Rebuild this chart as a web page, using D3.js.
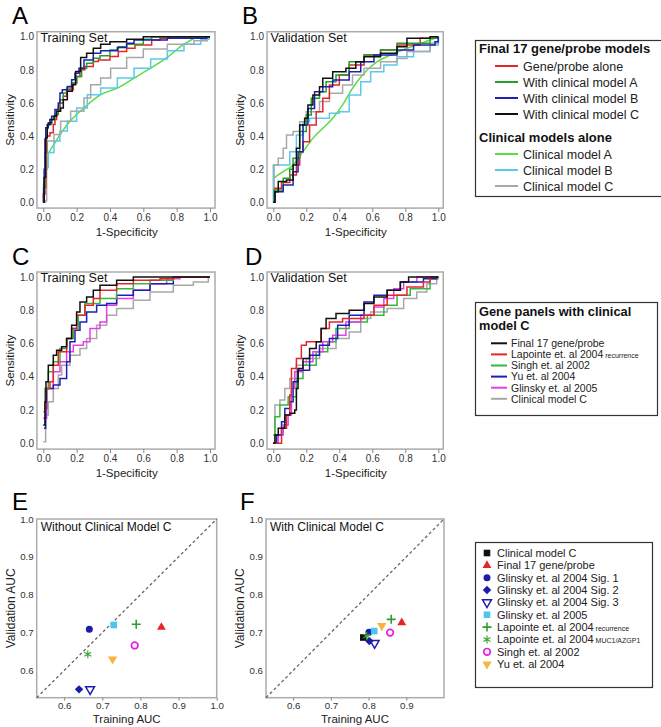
<!DOCTYPE html>
<html><head><meta charset="utf-8">
<script src="https://cdn.jsdelivr.net/npm/d3@7"></script>
<style>body{margin:0;background:#fff} svg text{font-family:"Liberation Sans",Arial,Helvetica,sans-serif}</style>
</head><body><svg id="c" width="661" height="727"></svg>
<script>
// ---------- Panel A: training set, ROC (x = 1-specificity, y = sensitivity)
const trainGeneAlone = [[0,0],[0,0.05],[0.01,0.09],[0.015,0.3],[0.02,0.4],[0.04,0.42],[0.06,0.47],[0.07,0.5],[0.08,0.55],[0.1,0.6],[0.12,0.64],[0.14,0.68],[0.18,0.72],[0.2,0.76],[0.22,0.8],[0.25,0.82],[0.3,0.85],[0.33,0.86],[0.4,0.88],[0.45,0.91],[0.5,0.93],[0.55,0.95],[0.65,0.98],[0.7,0.99],[0.75,1],[1,1]];
const trainWithA = [[0,0],[0.005,0.1],[0.01,0.3],[0.015,0.45],[0.03,0.47],[0.05,0.5],[0.07,0.53],[0.09,0.58],[0.1,0.62],[0.12,0.66],[0.14,0.69],[0.17,0.72],[0.2,0.76],[0.23,0.81],[0.26,0.84],[0.3,0.87],[0.34,0.885],[0.4,0.92],[0.45,0.94],[0.5,0.955],[0.6,0.985],[0.65,1],[1,1]];
const trainWithB = [[0,0],[0.005,0.2],[0.01,0.38],[0.015,0.45],[0.03,0.48],[0.05,0.52],[0.07,0.56],[0.09,0.6],[0.1,0.66],[0.114,0.68],[0.144,0.7],[0.17,0.74],[0.19,0.78],[0.214,0.81],[0.244,0.86],[0.3,0.9],[0.344,0.915],[0.444,0.935],[0.5,0.96],[0.544,0.98],[0.744,0.99],[0.98,1],[1,1]];
const trainWithC = [[0,0],[0.005,0.15],[0.014,0.39],[0.024,0.47],[0.04,0.5],[0.064,0.52],[0.08,0.55],[0.104,0.57],[0.12,0.62],[0.144,0.67],[0.174,0.71],[0.194,0.79],[0.224,0.875],[0.26,0.9],[0.3,0.93],[0.344,0.955],[0.4,0.97],[0.5,0.985],[0.6,1],[1,1]];
const trainClinA = [[0,0.1],[0.006,0.13],[0.024,0.27],[0.064,0.35],[0.144,0.47],[0.244,0.57],[0.344,0.65],[0.444,0.69],[0.544,0.75],[0.644,0.81],[0.744,0.875],[0.844,0.955],[0.944,1],[1,1]];
const trainClinB = [[0,0],[0,0.09],[0.014,0.21],[0.03,0.3],[0.064,0.37],[0.1,0.43],[0.144,0.49],[0.2,0.57],[0.264,0.65],[0.344,0.69],[0.444,0.75],[0.544,0.81],[0.644,0.865],[0.744,0.915],[0.844,0.955],[0.944,0.985],[0.994,1],[1,1]];
const trainClinC = [[0,0],[0.014,0.01],[0.02,0.2],[0.024,0.37],[0.064,0.41],[0.104,0.49],[0.164,0.55],[0.244,0.63],[0.284,0.71],[0.344,0.75],[0.404,0.81],[0.5,0.875],[0.6,0.925],[0.744,0.955],[0.904,0.975],[0.984,1],[1,1]];

// ---------- Panel B: validation set
const validGeneAlone = [[0,0],[0.01,0.085],[0.05,0.12],[0.1,0.165],[0.14,0.225],[0.16,0.306],[0.18,0.366],[0.22,0.467],[0.26,0.547],[0.3,0.628],[0.34,0.708],[0.4,0.769],[0.46,0.829],[0.55,0.889],[0.65,0.92],[0.75,0.95],[0.89,0.99],[0.99,1],[1,1]];
const validWithA = [[0,0],[0.005,0.075],[0.06,0.145],[0.1,0.2],[0.12,0.266],[0.16,0.427],[0.2,0.527],[0.23,0.628],[0.28,0.668],[0.32,0.728],[0.38,0.769],[0.46,0.849],[0.55,0.889],[0.65,0.92],[0.75,0.96],[0.95,0.99],[1,1]];
const validWithB = [[0,0],[0.01,0.064],[0.06,0.105],[0.12,0.185],[0.15,0.306],[0.18,0.467],[0.21,0.567],[0.25,0.668],[0.3,0.698],[0.36,0.738],[0.46,0.789],[0.53,0.849],[0.61,0.889],[0.75,0.92],[0.85,0.95],[0.98,0.97],[1,1]];
const validWithC = [[0,0],[0.01,0.064],[0.03,0.125],[0.08,0.135],[0.12,0.225],[0.14,0.326],[0.16,0.467],[0.19,0.507],[0.21,0.588],[0.24,0.648],[0.28,0.698],[0.3,0.749],[0.36,0.789],[0.44,0.809],[0.5,0.849],[0.55,0.879],[0.65,0.9],[0.75,0.94],[0.81,0.99],[0.95,1],[1,1]];
const validClinA = [[0,0.145],[0.06,0.185],[0.12,0.225],[0.18,0.306],[0.24,0.386],[0.3,0.447],[0.36,0.507],[0.42,0.588],[0.48,0.688],[0.55,0.779],[0.63,0.849],[0.71,0.889],[0.81,0.93],[0.95,0.98],[1,1]];
const validClinB = [[0,0],[0,0.225],[0.06,0.225],[0.1,0.306],[0.14,0.406],[0.18,0.487],[0.22,0.507],[0.3,0.507],[0.34,0.537],[0.4,0.547],[0.46,0.648],[0.53,0.728],[0.59,0.789],[0.67,0.829],[0.75,0.879],[0.85,0.91],[0.95,0.95],[1,1]];
const validClinC = [[0,0],[0.005,0.225],[0.03,0.266],[0.06,0.326],[0.08,0.406],[0.12,0.427],[0.16,0.487],[0.2,0.547],[0.28,0.608],[0.34,0.658],[0.42,0.708],[0.48,0.769],[0.55,0.809],[0.65,0.849],[0.75,0.869],[0.81,0.91],[0.95,0.96],[1,1]];

// ---------- Panel C: training set, gene panels with clinical model C
const panTrainFinal = [[0,0.11],[0.01,0.25],[0.016,0.37],[0.03,0.47],[0.06,0.53],[0.08,0.56],[0.11,0.58],[0.14,0.63],[0.17,0.71],[0.2,0.79],[0.22,0.85],[0.26,0.88],[0.3,0.92],[0.34,0.95],[0.44,0.98],[0.54,1],[1,1]];
const panTrainLapointe = [[0.006,0.21],[0.016,0.33],[0.04,0.37],[0.06,0.47],[0.09,0.55],[0.14,0.63],[0.17,0.69],[0.2,0.77],[0.25,0.83],[0.3,0.87],[0.34,0.92],[0.44,0.96],[0.54,0.98],[0.7,0.99],[0.78,1],[1,1]];
const panTrainSingh = [[0,0.19],[0.01,0.33],[0.03,0.43],[0.06,0.49],[0.1,0.57],[0.14,0.63],[0.18,0.69],[0.21,0.77],[0.25,0.84],[0.34,0.87],[0.44,0.93],[0.54,0.96],[0.64,0.98],[0.78,1],[1,1]];
const panTrainYu = [[0.004,0.09],[0.014,0.21],[0.02,0.33],[0.06,0.35],[0.1,0.39],[0.14,0.49],[0.16,0.61],[0.19,0.68],[0.22,0.73],[0.26,0.79],[0.32,0.83],[0.38,0.84],[0.44,0.89],[0.54,0.92],[0.64,0.96],[0.78,1],[1,1]];
const panTrainGlinsky = [[0,0.15],[0.02,0.33],[0.06,0.43],[0.1,0.49],[0.14,0.55],[0.18,0.59],[0.24,0.61],[0.28,0.69],[0.34,0.73],[0.38,0.83],[0.44,0.87],[0.54,0.92],[0.64,0.96],[0.74,0.99],[0.82,1],[1,1]];
const panTrainClinC = [[0,0.01],[0.014,0.17],[0.03,0.25],[0.06,0.33],[0.09,0.41],[0.11,0.47],[0.16,0.53],[0.22,0.57],[0.26,0.63],[0.32,0.71],[0.38,0.77],[0.44,0.81],[0.54,0.86],[0.64,0.91],[0.78,0.95],[0.9,0.97],[0.99,1],[1,1]];

// ---------- Panel D: validation set, gene panels with clinical model C
const panValidFinal = [[0,0],[0.01,0.05],[0.03,0.09],[0.07,0.17],[0.1,0.18],[0.13,0.2],[0.14,0.33],[0.15,0.45],[0.18,0.51],[0.22,0.57],[0.26,0.61],[0.29,0.69],[0.32,0.75],[0.38,0.78],[0.46,0.8],[0.55,0.84],[0.61,0.88],[0.69,0.92],[0.77,0.97],[0.82,1],[1,1]];
const panValidLapointe = [[0,0],[0.05,0.09],[0.08,0.17],[0.1,0.29],[0.11,0.45],[0.14,0.51],[0.17,0.59],[0.2,0.61],[0.26,0.61],[0.29,0.69],[0.34,0.73],[0.42,0.75],[0.55,0.77],[0.61,0.83],[0.69,0.89],[0.81,0.94],[0.91,0.97],[0.95,1],[1,1]];
const panValidSingh = [[0,0.05],[0.01,0.16],[0.04,0.23],[0.09,0.28],[0.14,0.39],[0.18,0.47],[0.26,0.55],[0.33,0.61],[0.38,0.69],[0.46,0.73],[0.57,0.77],[0.67,0.83],[0.75,0.89],[0.83,0.93],[0.95,0.99],[0.99,1],[1,1]];
const panValidYu = [[0,0],[0.02,0.05],[0.05,0.13],[0.07,0.21],[0.1,0.25],[0.12,0.37],[0.15,0.44],[0.22,0.53],[0.28,0.59],[0.34,0.63],[0.39,0.71],[0.46,0.77],[0.55,0.85],[0.61,0.89],[0.69,0.92],[0.77,0.97],[0.91,0.99],[0.99,1],[1,1]];
const panValidGlinsky = [[0,0],[0.03,0.05],[0.06,0.11],[0.09,0.17],[0.11,0.33],[0.13,0.43],[0.18,0.49],[0.24,0.55],[0.3,0.61],[0.36,0.65],[0.44,0.73],[0.53,0.77],[0.61,0.82],[0.67,0.87],[0.73,0.93],[0.79,0.97],[0.87,1],[1,1]];
const panValidClinC = [[0,0],[0.01,0.23],[0.04,0.26],[0.07,0.33],[0.1,0.39],[0.14,0.47],[0.2,0.51],[0.28,0.57],[0.38,0.63],[0.46,0.67],[0.53,0.75],[0.59,0.79],[0.69,0.81],[0.79,0.87],[0.87,0.91],[0.93,0.96],[0.99,0.99],[1,1]];

// ---------- Panels E/F: AUC scatter
const aucNames = ["Clinical model C","Final 17 gene/probe","Glinsky et. al 2004 Sig. 1","Glinsky et. al 2004 Sig. 2","Glinsky et. al 2004 Sig. 3","Glinsky et. al 2005","Lapointe et. al 2004","Lapointe et. al 2004","Singh et. al 2002","Yu et. al 2004"];
const aucNameSmall = ["","","","","","","recurrence","MUC1/AZGP1","",""];
const trainAucWithout = [null,0.855,0.666,0.639,0.668,0.730,0.789,0.662,0.785,0.727];
const validAucWithout = [null,0.714,0.709,0.550,0.550,0.720,0.722,0.643,0.666,0.630];
const trainAucWith = [0.786,0.888,0.801,0.802,0.816,0.815,0.860,0.795,0.857,0.835];
const validAucWith = [0.687,0.726,0.701,0.678,0.672,0.704,0.735,0.691,0.700,0.718];

const rocTicks = [0,0.2,0.4,0.6,0.8,1.0];
const aucTicks = [0.6,0.7,0.8,0.9,1.0];

// ---------- styling
const COL = {red:"#e3262a", green:"#22a02a", blue:"#1f1fb4", black:"#111111", lgreen:"#55dd44", cyan:"#5cc8ea", gray:"#a8a8a8", magenta:"#e83ce8", dgreen2:"#33b83a"};
const aucColors = ["#111111","#e3262a","#1c1caa","#1c1caa","#1c1caa","#4fc4f0","#2e9e2e","#3aa63a","#e61ee6","#f5b53f"];
const aucShapes = ["square","triUp","circle","diamond","triDownOpen","square","plus","asterisk","circleOpen","triDown"];

const svg = d3.select("#c");
const defs = svg.append("defs");
const fmt = d3.format(".1f");

function rocPanel(id, xr, yr, title, series) {
  const x = d3.scaleLinear().domain([0,1]).range(xr);
  const y = d3.scaleLinear().domain([0,1]).range(yr);
  const bx0 = x(-0.038), bx1 = x(1.03), by0 = y(-0.035), by1 = y(1.03);
  const g = svg.append("g");
  g.append("rect").attr("x",bx0).attr("y",by1).attr("width",bx1-bx0).attr("height",by0-by1)
    .attr("fill","#fff").attr("stroke","#acacac").attr("stroke-width",1.5);
  defs.append("clipPath").attr("id","clip"+id).append("rect")
    .attr("x",bx0).attr("y",by1).attr("width",bx1-bx0).attr("height",by0-by1);
  const xa = g.append("g").attr("transform",`translate(0,${by0})`)
    .call(d3.axisBottom(x).tickValues(rocTicks).tickFormat(fmt).tickSize(4).tickPadding(2));
  xa.select(".domain").remove();
  xa.selectAll("line").attr("stroke","#888");
  xa.selectAll("text").attr("font-size",10).attr("fill","#333");
  const ya = g.append("g").attr("transform",`translate(${bx0},0)`)
    .call(d3.axisLeft(y).tickValues(rocTicks).tickFormat(fmt).tickSize(0).tickPadding(3));
  ya.select(".domain").remove();
  ya.selectAll("text").attr("font-size",10).attr("fill","#333");
  g.append("text").attr("x",(x(0)+x(1))/2).attr("y",by0+28).attr("text-anchor","middle")
    .attr("font-size",11.5).attr("fill","#222").text("1-Specificity");
  g.append("text").attr("transform",`translate(${bx0-23},${(by0+by1)/2}) rotate(-90)`)
    .attr("text-anchor","middle").attr("font-size",11.5).attr("fill","#222").text("Sensitivity");
  const lg = g.append("g").attr("clip-path",`url(#clip${id})`);
  series.forEach(s => {
    const line = d3.line().x(d=>x(d[0])).y(d=>y(d[1])).curve(s.smooth ? d3.curveMonotoneX : d3.curveStepAfter);
    lg.append("path").attr("d",line(s.data)).attr("fill","none").attr("stroke",s.color)
      .attr("stroke-width",1.5).attr("stroke-linejoin","miter");
  });
  g.append("text").attr("x",bx0+3.5).attr("y",by1+9.8).attr("font-size",12.5).attr("fill","#111").text(title);
}

rocPanel("A",[43.3,210],[202.3,36.7],"Training Set",[
  {data:trainClinA,color:COL.lgreen,smooth:true},
  {data:trainClinB,color:COL.cyan},
  {data:trainClinC,color:COL.gray},
  {data:trainGeneAlone,color:COL.red},
  {data:trainWithA,color:COL.green},
  {data:trainWithB,color:COL.blue},
  {data:trainWithC,color:COL.black}]);
rocPanel("B",[273.3,438.3],[202.3,36.7],"Validation Set",[
  {data:validClinA,color:COL.lgreen,smooth:true},
  {data:validClinB,color:COL.cyan},
  {data:validClinC,color:COL.gray},
  {data:validGeneAlone,color:COL.red},
  {data:validWithA,color:COL.green},
  {data:validWithB,color:COL.blue},
  {data:validWithC,color:COL.black}]);
rocPanel("C",[43.3,210],[443.3,277],"Training Set",[
  {data:panTrainClinC,color:COL.gray},
  {data:panTrainGlinsky,color:COL.magenta},
  {data:panTrainYu,color:COL.blue},
  {data:panTrainSingh,color:COL.dgreen2},
  {data:panTrainLapointe,color:COL.red},
  {data:panTrainFinal,color:COL.black}]);
rocPanel("D",[273.3,438.3],[443.3,277],"Validation Set",[
  {data:panValidClinC,color:COL.gray},
  {data:panValidSingh,color:COL.dgreen2},
  {data:panValidGlinsky,color:COL.magenta},
  {data:panValidYu,color:COL.blue},
  {data:panValidLapointe,color:COL.red},
  {data:panValidFinal,color:COL.black}]);

function marker(g, type, cx, cy, color) {
  const t = `translate(${cx},${cy})`;
  switch(type) {
    case "square": g.append("rect").attr("x",cx-3.3).attr("y",cy-3.3).attr("width",6.6).attr("height",6.6).attr("fill",color); break;
    case "triUp": g.append("path").attr("d",d3.symbol(d3.symbolTriangle,34)()).attr("transform",t).attr("fill",color); break;
    case "circle": g.append("circle").attr("cx",cx).attr("cy",cy).attr("r",3.5).attr("fill",color); break;
    case "diamond": g.append("path").attr("d",d3.symbol(d3.symbolSquare,36)()).attr("transform",t+" rotate(45)").attr("fill",color); break;
    case "triDownOpen": g.append("path").attr("d",d3.symbol(d3.symbolTriangle,34)()).attr("transform",t+" rotate(180)").attr("fill","none").attr("stroke",color).attr("stroke-width",1.5); break;
    case "triDown": g.append("path").attr("d",d3.symbol(d3.symbolTriangle,38)()).attr("transform",t+" rotate(180)").attr("fill",color); break;
    case "plus": g.append("path").attr("d",`M${cx-4.5},${cy}H${cx+4.5}M${cx},${cy-4.5}V${cy+4.5}`).attr("stroke",color).attr("stroke-width",1.6); break;
    case "asterisk": {
      let d = "";
      [90,30,150].forEach(a => { const r=a*Math.PI/180, dx=4*Math.cos(r), dy=4*Math.sin(r); d += `M${cx-dx},${cy-dy}L${cx+dx},${cy+dy}`; });
      g.append("path").attr("d",d).attr("stroke",color).attr("stroke-width",1.2); break; }
    case "circleOpen": g.append("circle").attr("cx",cx).attr("cy",cy).attr("r",3.3).attr("fill","none").attr("stroke",color).attr("stroke-width",1.7); break;
  }
}

function aucPanel(id, xr, yr, title, tx, ty, showOne) {
  const x = d3.scaleLinear().domain([0.528,1]).range(xr);
  const y = d3.scaleLinear().domain([0.528,1]).range(yr);
  const g = svg.append("g");
  g.append("rect").attr("x",xr[0]).attr("y",yr[1]).attr("width",xr[1]-xr[0]).attr("height",yr[0]-yr[1])
    .attr("fill","#fff").attr("stroke","#acacac").attr("stroke-width",1.5);
  const xa = g.append("g").attr("transform",`translate(0,${yr[0]})`)
    .call(d3.axisBottom(x).tickValues(showOne ? aucTicks : aucTicks.slice(0,4)).tickFormat(fmt).tickSize(3).tickPadding(1.5));
  xa.select(".domain").remove();
  xa.selectAll("line").attr("stroke","#888");
  xa.selectAll("text").attr("font-size",9.7).attr("fill","#333");
  const ya = g.append("g").attr("transform",`translate(${xr[0]},0)`)
    .call(d3.axisLeft(y).tickValues(aucTicks).tickFormat(fmt).tickSize(0).tickPadding(3));
  ya.select(".domain").remove();
  ya.selectAll("text").attr("font-size",9.7).attr("fill","#333");
  g.append("line").attr("x1",x(0.528)).attr("y1",y(0.528)).attr("x2",x(1)).attr("y2",y(1))
    .attr("stroke","#666").attr("stroke-width",1.3).attr("stroke-dasharray","3,2.5");
  g.append("text").attr("x",(xr[0]+xr[1])/2).attr("y",yr[0]+24.8).attr("text-anchor","middle")
    .attr("font-size",11.5).attr("fill","#222").text("Training AUC");
  g.append("text").attr("transform",`translate(${xr[0]-22},${(yr[0]+yr[1])/2}) rotate(-90)`)
    .attr("text-anchor","middle").attr("font-size",12).attr("fill","#222").text("Validation AUC");
  g.append("text").attr("x",xr[0]+4).attr("y",yr[1]+11.5).attr("font-size",12).attr("fill","#111").text(title);
  aucNames.forEach((n,i) => {
    if (tx[i] == null) return;
    marker(g, aucShapes[i], x(tx[i]), y(ty[i]), aucColors[i]);
  });
}
aucPanel("E",[36.7,216.7],[697.7,519],"Without Clinical Model C",trainAucWithout,validAucWithout,true);
aucPanel("F",[266,444],[697.7,519],"With Clinical Model C",trainAucWith,validAucWith,false);

// ---------- panel letters
[["A",12,23.5],["B",242,23.5],["C",12,265],["D",245,265],["E",12,510],["F",240,510]].forEach(([t,x,y]) =>
  svg.append("text").attr("x",x).attr("y",y).attr("font-size",24).attr("fill","#000").text(t));

// ---------- Legend 1
const leg1Title1 = "Final 17 gene/probe models";
const leg1Items1 = ["Gene/probe alone","With clinical model A","With clinical model B","With clinical model C"];
const leg1Col1 = [COL.red,COL.green,COL.blue,COL.black];
const leg1Title2 = "Clinical models alone";
const leg1Items2 = ["Clinical model A","Clinical model B","Clinical model C"];
const leg1Col2 = [COL.lgreen,COL.cyan,COL.gray];
{
  const g = svg.append("g");
  g.append("rect").attr("x",475.5).attr("y",40.5).attr("width",190).attr("height",156).attr("fill","#fff").attr("stroke","#333").attr("stroke-width",1.2);
  g.append("text").attr("x",479).attr("y",53).attr("font-size",13).attr("font-weight","bold").attr("fill","#111").text(leg1Title1);
  leg1Items1.forEach((t,i)=>{ const cy=66+i*16;
    g.append("line").attr("x1",495).attr("x2",518).attr("y1",cy).attr("y2",cy).attr("stroke",leg1Col1[i]).attr("stroke-width",2);
    g.append("text").attr("x",523).attr("y",cy+4.5).attr("font-size",12.5).attr("fill","#222").text(t); });
  g.append("text").attr("x",479).attr("y",141.5).attr("font-size",13).attr("font-weight","bold").attr("fill","#111").text(leg1Title2);
  leg1Items2.forEach((t,i)=>{ const cy=154+i*16;
    g.append("line").attr("x1",495).attr("x2",518).attr("y1",cy).attr("y2",cy).attr("stroke",leg1Col2[i]).attr("stroke-width",2);
    g.append("text").attr("x",523).attr("y",cy+4.5).attr("font-size",12.5).attr("fill","#222").text(t); });
}
// ---------- Legend 2
const leg2Title = ["Gene panels with clinical","model C"];
const leg2Items = ["Final 17 gene/probe","Lapointe et. al 2004","Singh et. al 2002","Yu et. al 2004","Glinsky et. al 2005","Clinical model C"];
const leg2Small = ["","recurrence","","","",""];
const leg2Col = [COL.black,COL.red,COL.dgreen2,COL.blue,COL.magenta,COL.gray];
{
  const g = svg.append("g");
  g.append("rect").attr("x",475.5).attr("y",302.5).attr("width",182).attr("height",113).attr("fill","#fff").attr("stroke","#333").attr("stroke-width",1.2);
  leg2Title.forEach((t,i)=> g.append("text").attr("x",479).attr("y",316+i*14).attr("font-size",12.8).attr("font-weight","bold").attr("fill","#111").text(t));
  leg2Items.forEach((t,i)=>{ const cy=343.3+i*11.1;
    g.append("line").attr("x1",491).attr("x2",507).attr("y1",cy).attr("y2",cy).attr("stroke",leg2Col[i]).attr("stroke-width",2);
    const tx = g.append("text").attr("x",511).attr("y",cy+3.8).attr("font-size",10.5).attr("fill","#222").text(t);
    if (leg2Small[i]) tx.append("tspan").attr("font-size",7).text(" "+leg2Small[i]); });
}
// ---------- Legend 3
{
  const g = svg.append("g");
  g.append("rect").attr("x",475.5).attr("y",542.5).attr("width",177).attr("height",145).attr("fill","#fff").attr("stroke","#333").attr("stroke-width",1.2);
  aucNames.forEach((t,i)=>{ const cy=553+i*12.35;
    marker(g, aucShapes[i], 487, cy, aucColors[i]);
    const tx = g.append("text").attr("x",497).attr("y",cy+3.9).attr("font-size",11).attr("fill","#222").text(t);
    if (aucNameSmall[i]) tx.append("tspan").attr("font-size",7).text(" "+aucNameSmall[i]); });
}
</script></body></html>
